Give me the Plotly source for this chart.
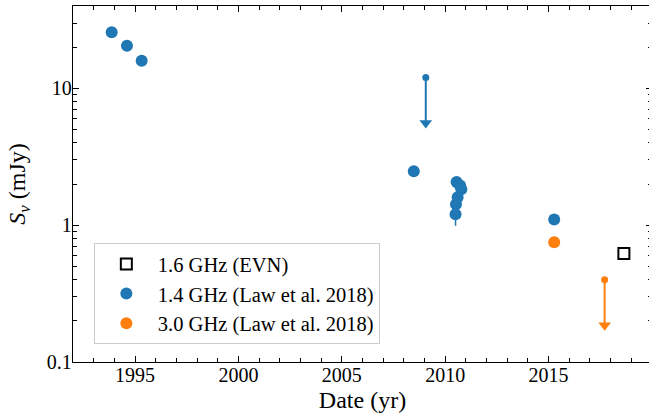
import plotly.graph_objects as go
import numpy as np

# EVN 1.6 GHz detection
evn_year = [2018.64]
evn_flux = [0.62]

# Law et al. 2018, 1.4 GHz
l14_year = [1993.87, 1994.61, 1995.32, 2008.48, 2010.55, 2010.72, 2010.78,
            2010.60, 2010.52, 2010.50, 2015.27]
l14_flux = [25.7, 20.5, 15.9, 2.48, 2.07, 1.95, 1.83, 1.60, 1.42, 1.20, 1.10]
l14_err = [0, 0, 0, 0, 0.08, 0.08, 0.08, 0.08, 0.08, 0.21, 0]

# Law et al. 2018, 3.0 GHz
l30_year = [2015.27]
l30_flux = [0.75]

# upper limits
l14_lim_year = [2009.06]
l14_lim_flux = [12.0]
l30_lim_year = [2017.71]
l30_lim_flux = [0.40]
head_frac = 0.465  # arrow head centre relative to limit value

blue = '#1f77b4'
orange = '#ff7f0e'
font = 'Liberation Serif'

fig = go.Figure()


def add_limit(years, fluxes, color):
    heads = [f * head_frac for f in fluxes]
    # shaft
    for yr, f, h in zip(years, fluxes, heads):
        fig.add_trace(go.Scatter(
            x=[yr, yr], y=[f, h], mode='lines',
            line=dict(color=color, width=2),
            showlegend=False, hoverinfo='skip'
        ))
    # small dot at the limit
    fig.add_trace(go.Scatter(
        x=years, y=fluxes, mode='markers',
        marker=dict(size=7, color=color),
        showlegend=False, hoverinfo='skip'
    ))
    # arrow head
    fig.add_trace(go.Scatter(
        x=years, y=heads, mode='markers',
        marker=dict(symbol='triangle-down', size=11, color=color,
                    line=dict(width=0)),
        showlegend=False, hoverinfo='skip'
    ))


add_limit(l14_lim_year, l14_lim_flux, blue)
add_limit(l30_lim_year, l30_lim_flux, orange)

fig.add_trace(go.Scatter(
    x=evn_year, y=evn_flux, mode='markers', name='1.6 GHz (EVN)',
    marker=dict(symbol='square-open', size=11, color='black',
                line=dict(width=2, color='black'))
))
fig.add_trace(go.Scatter(
    x=l14_year, y=l14_flux, mode='markers', name='1.4 GHz (Law et al. 2018)',
    marker=dict(size=12, color=blue),
    error_y=dict(type='data', array=l14_err, color=blue, thickness=1.5, width=0)
))
fig.add_trace(go.Scatter(
    x=l30_year, y=l30_flux, mode='markers', name='3.0 GHz (Law et al. 2018)',
    marker=dict(size=12, color=orange)
))

# the figure is slightly wider than the window so the right spine falls off the edge
fig.update_layout(
    width=652, height=416, autosize=False,
    margin=dict(l=73, r=0, t=6, b=54),
    plot_bgcolor='white', paper_bgcolor='white',
    font=dict(family=font, size=20, color='black'),
    legend=dict(x=0.036, y=0.334, xanchor='left', yanchor='top',
                bordercolor='#cccccc', borderwidth=1,
                bgcolor='rgba(255,255,255,0.8)',
                font=dict(family=font, size=20.5), itemwidth=53,
                traceorder='normal'),
)

fig.update_xaxes(
    range=[1992, 2020], showgrid=False, zeroline=False, automargin=False,
    showline=True, linecolor='black', linewidth=1.3, mirror='allticks',
    tickvals=[1995, 2000, 2005, 2010, 2015],
    ticks='inside', ticklen=6, tickwidth=1.2, tickcolor='black',
    ticklabelstandoff=-5,
    minor=dict(ticks='inside', ticklen=3.5, dtick=1, tick0=1992,
               tickcolor='black', tickwidth=1, showgrid=False),
    title=dict(text='Date (yr)', standoff=6),
)
fig.update_yaxes(
    type='log', range=[-1, np.log10(40)], showgrid=False, zeroline=False,
    automargin=False,
    showline=True, linecolor='black', linewidth=1.3, mirror='allticks',
    tickvals=[0.1, 1, 10], ticktext=['0.1', '1', '10'],
    ticks='inside', ticklen=6, tickwidth=1.2, tickcolor='black',
    ticklabelstandoff=-4,
    minor=dict(ticks='inside', ticklen=3.5, dtick='D1',
               tickcolor='black', tickwidth=1, showgrid=False),
    title=dict(text='<i>S</i><sub><i>ν</i></sub> (mJy)', standoff=14),
)

fig.write_html(
    'out.html',
    config={'displayModeBar': False},
    post_script="document.body.style.margin='0';"
                "document.body.style.overflow='hidden';"
                "document.documentElement.style.overflow='hidden';",
)
